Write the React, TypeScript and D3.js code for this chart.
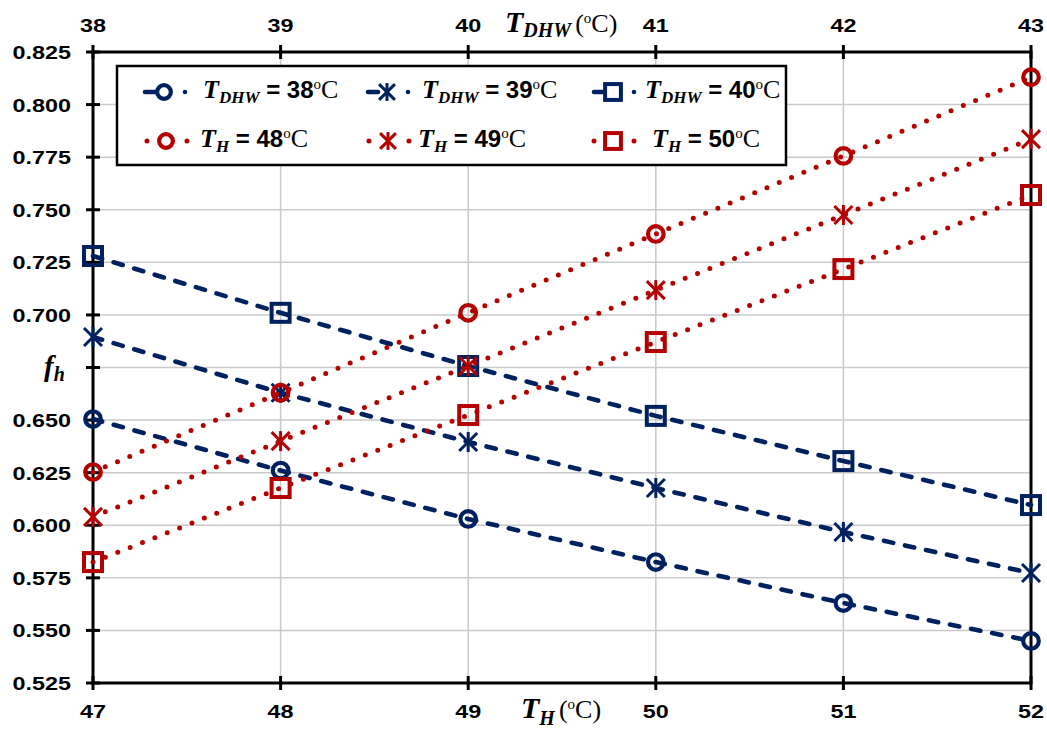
import React from "react";
import * as d3 from "d3";

const TH = [47, 48, 49, 50, 51, 52];
const TDHW = [38, 39, 40, 41, 42, 43];
const yTicks = [0.825, 0.8, 0.775, 0.75, 0.725, 0.7, 0.675, 0.65, 0.625, 0.6, 0.575, 0.55, 0.525];

const dhw38 = [0.6505, 0.626, 0.603, 0.5825, 0.563, 0.545];
const dhw39 = [0.6895, 0.663, 0.6396, 0.6177, 0.5968, 0.5773];
const dhw40 = [0.728, 0.701, 0.6757, 0.652, 0.6305, 0.6096];
const th48 = [0.6253, 0.663, 0.701, 0.7385, 0.7756, 0.813];
const th49 = [0.604, 0.640, 0.6757, 0.7118, 0.7475, 0.7836];
const th50 = [0.5825, 0.6177, 0.6524, 0.6871, 0.7218, 0.757];

const BLUE = "#00215f";
const RED = "#b40000";

type S = { name: string; sub: string; val: string; data: number[]; color: string; marker: string; dashed: boolean };
const series: S[] = [
  { name: "T", sub: "DHW", val: "38", data: dhw38, color: BLUE, marker: "circle", dashed: true },
  { name: "T", sub: "DHW", val: "39", data: dhw39, color: BLUE, marker: "star", dashed: true },
  { name: "T", sub: "DHW", val: "40", data: dhw40, color: BLUE, marker: "square", dashed: true },
  { name: "T", sub: "H", val: "48", data: th48, color: RED, marker: "circle", dashed: false },
  { name: "T", sub: "H", val: "49", data: th49, color: RED, marker: "star", dashed: false },
  { name: "T", sub: "H", val: "50", data: th50, color: RED, marker: "square", dashed: false },
];

const L = 93, R = 1031, T = 52, B = 683;
const x = d3.scaleLinear().domain([47, 52]).range([L, R]);
const xTop = d3.scaleLinear().domain([38, 43]).range([L, R]);
const y = d3.scaleLinear().domain([0.525, 0.825]).range([B, T]);

const SANS = "'Liberation Sans', Arial, sans-serif";
const SERIF = "'Liberation Serif', 'Times New Roman', serif";

function Marker({ type, cx, cy, color, s = 1 }: { type: string; cx: number; cy: number; color: string; s?: number }) {
  if (type === "circle") return <circle cx={cx} cy={cy} r={7.8 * s} fill="none" stroke={color} strokeWidth={4.2} />;
  if (type === "square") {
    const h = 9 * s;
    return <rect x={cx - h} y={cy - h} width={2 * h} height={2 * h} fill="none" stroke={color} strokeWidth={4} />;
  }
  const a = 9 * s;
  return (
    <g stroke={color} strokeWidth={3} strokeLinecap="butt">
      <line x1={cx - a} y1={cy - a} x2={cx + a} y2={cy + a} />
      <line x1={cx - a} y1={cy + a} x2={cx + a} y2={cy - a} />
      <line x1={cx} y1={cy - a - 1} x2={cx} y2={cy + a + 1} />
    </g>
  );
}

function WideText({ x: tx, y: ty, anchor, children }: { x: number; y: number; anchor: string; children: React.ReactNode }) {
  return (
    <g transform={`translate(${tx},${ty}) scale(1.23,1)`}>
      <text x={0} y={0} textAnchor={anchor} fontFamily={SANS} fontWeight="bold" fontSize={19} fill="#000">
        {children}
      </text>
    </g>
  );
}

const lineStyle = (dashed: boolean) => ({
  strokeWidth: dashed ? 4.6 : 5,
  strokeDasharray: dashed ? "9.5 12" : "0 13.3",
  strokeLinecap: "round" as const,
});

export default function App() {
  const line = d3
    .line<number>()
    .x((_, i) => x(TH[i]))
    .y((d) => y(d));

  const legendPos = [
    { mx: 164, my: 92, tx: 203 },
    { mx: 387, my: 92, tx: 422 },
    { mx: 613, my: 92, tx: 645 },
    { mx: 166, my: 141, tx: 200 },
    { mx: 388, my: 141, tx: 418 },
    { mx: 613, my: 141, tx: 652 },
  ];

  return (
    <svg width={1047} height={731} style={{ display: "block", position: "absolute", left: 0, top: 0 }}>
      <rect width={1047} height={731} fill="#fff" />
      {/* grid */}
      {yTicks.map((t) => (
        <line key={"gy" + t} x1={L} x2={R} y1={y(t)} y2={y(t)} stroke="#c9c9c9" strokeWidth={1.5} />
      ))}
      {TH.map((t) => (
        <line key={"gx" + t} x1={x(t)} x2={x(t)} y1={T} y2={B} stroke="#c9c9c9" strokeWidth={1.5} />
      ))}
      {/* frame */}
      <rect x={L} y={T} width={R - L} height={B - T} fill="none" stroke="#000" strokeWidth={3} />
      {/* ticks */}
      {yTicks.map((t) => (
        <line key={"ty" + t} x1={L - 7} x2={L + 7} y1={y(t)} y2={y(t)} stroke="#000" strokeWidth={3} />
      ))}
      {TH.map((t) => (
        <line key={"tb" + t} x1={x(t)} x2={x(t)} y1={B - 7} y2={B + 7} stroke="#000" strokeWidth={3} />
      ))}
      {TDHW.map((t) => (
        <line key={"tt" + t} x1={xTop(t)} x2={xTop(t)} y1={T - 7} y2={T + 7} stroke="#000" strokeWidth={3} />
      ))}
      {/* tick labels */}
      {yTicks.map((t) =>
        Math.abs(t - 0.675) < 1e-9 ? null : (
          <WideText key={"ly" + t} x={71} y={y(t) + 7} anchor="end">
            {d3.format(".3f")(t)}
          </WideText>
        )
      )}
      {TH.map((t) => (
        <WideText key={"lb" + t} x={x(t)} y={718} anchor="middle">
          {String(t)}
        </WideText>
      ))}
      {TDHW.map((t) => (
        <WideText key={"lt" + t} x={xTop(t)} y={32} anchor="middle">
          {String(t)}
        </WideText>
      ))}
      {/* axis titles */}
      <text x={505} y={32} fontFamily={SERIF} fill="#000">
        <tspan fontSize={30} fontWeight="bold" fontStyle="italic">T</tspan>
        <tspan fontSize={20} fontWeight="bold" fontStyle="italic" dy={5}>DHW</tspan>
        <tspan fontSize={26} dy={-5} dx={4}>(</tspan>
        <tspan fontSize={15} dy={-9}>o</tspan>
        <tspan fontSize={26} dy={9}>C)</tspan>
      </text>
      <text x={521} y={718} fontFamily={SERIF} fill="#000">
        <tspan fontSize={30} fontWeight="bold" fontStyle="italic">T</tspan>
        <tspan fontSize={20} fontWeight="bold" fontStyle="italic" dy={7}>H</tspan>
        <tspan fontSize={26} dy={-7} dx={4}>(</tspan>
        <tspan fontSize={15} dy={-9}>o</tspan>
        <tspan fontSize={26} dy={9}>C)</tspan>
      </text>
      <text x={44} y={376} fontFamily={SERIF} fill="#000" fontWeight="bold" fontStyle="italic">
        <tspan fontSize={29}>f</tspan>
        <tspan fontSize={20} dy={5}>h</tspan>
      </text>
      {/* series */}
      {series.map((s, si) => (
        <g key={"s" + si}>
          <path d={line(s.data) || ""} fill="none" stroke={s.color} {...lineStyle(s.dashed)} />
          {s.data.map((v, i) => (
            <Marker key={i} type={s.marker} cx={x(TH[i])} cy={y(v)} color={s.color} />
          ))}
        </g>
      ))}
      {/* legend */}
      <rect x={117} y={66} width={669} height={99} fill="#fff" stroke="#000" strokeWidth={2.5} />
      {series.map((s, i) => {
        const p = legendPos[i];
        return (
          <g key={"lg" + i}>
            <line
              x1={p.mx - 19}
              x2={p.mx + 22}
              y1={p.my}
              y2={p.my}
              stroke={s.color}
              strokeWidth={s.dashed ? 4.6 : 5}
              strokeDasharray={s.dashed ? "10 30 0 100" : "0 40"}
              strokeLinecap="round"
            />
            <Marker type={s.marker} cx={p.mx} cy={p.my} color={s.color} s={0.88} />
            <text x={p.tx} y={p.my + 6} fill="#000">
              <tspan fontFamily={SERIF} fontSize={26} fontWeight="bold" fontStyle="italic">{s.name}</tspan>
              <tspan fontFamily={SERIF} fontSize={17} fontWeight="bold" fontStyle="italic" dy={5}>{s.sub}</tspan>
              <tspan fontFamily={SANS} fontSize={24} fontWeight="bold" dy={-5}>{" = " + s.val}</tspan>
              <tspan fontFamily={SERIF} fontSize={15} dy={-9}>o</tspan>
              <tspan fontFamily={SERIF} fontSize={26} dy={9}>C</tspan>
            </text>
          </g>
        );
      })}
    </svg>
  );
}
